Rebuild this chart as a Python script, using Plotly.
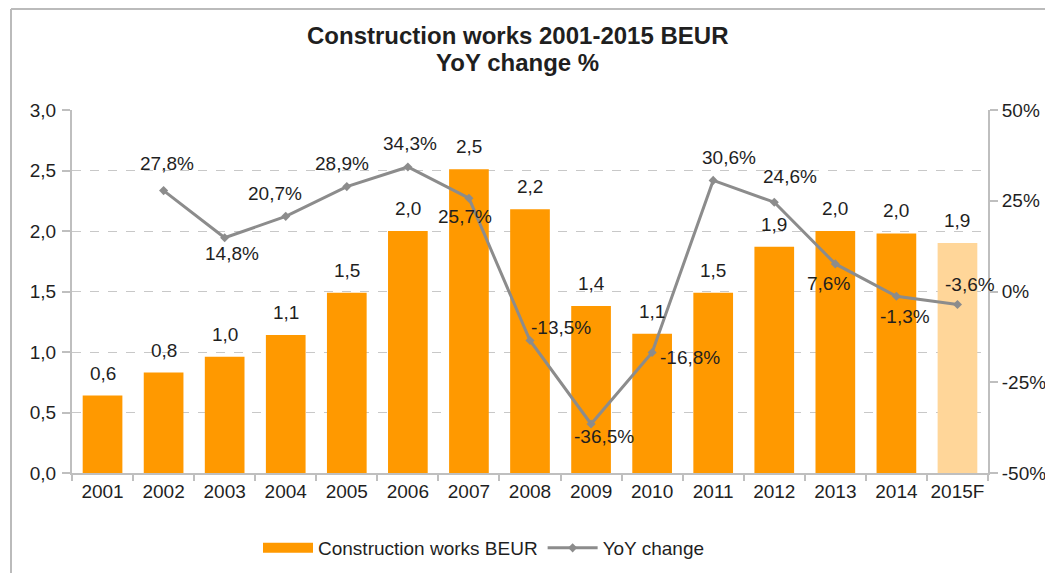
import plotly.graph_objects as go

years = ["2001", "2002", "2003", "2004", "2005", "2006", "2007", "2008",
         "2009", "2010", "2011", "2012", "2013", "2014", "2015F"]
works_beur = [0.64, 0.83, 0.96, 1.14, 1.49, 2.00, 2.51, 2.18,
              1.38, 1.15, 1.49, 1.87, 2.00, 1.98, 1.90]
yoy_years = years[1:]
yoy_pct = [27.8, 14.8, 20.7, 28.9, 34.3, 25.7, -13.5, -36.5,
           -16.8, 30.6, 24.6, 7.6, -1.3, -3.6]
y1_tickvals = [0, 0.5, 1, 1.5, 2, 2.5, 3]
y1_ticktext = ["0,0", "0,5", "1,0", "1,5", "2,0", "2,5", "3,0"]
y2_tickvals = [-50, -25, 0, 25, 50]
y2_ticktext = ["-50%", "-25%", "0%", "25%", "50%"]

# label offsets (px) for YoY data labels
yoy_dx = [3, 7, -11, -5, 2, -4, 31, 13, 38, 16, 16, -7, 9, 13]
yoy_dy = [-27, 16, -23, -23, -23, 18, -13, 12, 5, -23, -26, 20, 20, -20]

BAR = "#FF9900"
BAR_F = "#FFD699"
LINE = "#8C8C8C"
TXT = "#1F1F1F"
FONT = "Liberation Sans, Arial, sans-serif"
FS = 19

# page offset of the figure (browser body margin)
OFF = 8
PLOT_H = 363
PLOT_W = 916
PL, PT = 72, 110  # plot-area top-left in screenshot pixels

bar_colors = [BAR] * (len(years) - 1) + [BAR_F]

fig = go.Figure()
fig.add_trace(go.Bar(
    x=years, y=works_beur, name="Construction works BEUR",
    marker=dict(color=bar_colors, line=dict(width=0)),
    yaxis="y", hoverinfo="x+y", showlegend=False,
))
# legend entry for the bars (wide swatch, as in the reference)
fig.add_trace(go.Scatter(
    x=[None], y=[None], name="Construction works BEUR", mode="lines",
    line=dict(color=BAR, width=11), yaxis="y", showlegend=True,
))
fig.add_trace(go.Scatter(
    x=yoy_years, y=yoy_pct, name="YoY change", yaxis="y2",
    mode="lines+markers",
    line=dict(color=LINE, width=3),
    marker=dict(symbol="diamond", size=7, color=LINE),
))


def px_x(x):
    return (x - PL) / PLOT_W


def px_y(y):
    return 1 - (y - PT) / PLOT_H


annotations = []
for i, v in enumerate(works_beur):
    annotations.append(dict(
        x=i, y=v, xref="x", yref="y", text=f"{v:.1f}".replace(".", ","),
        showarrow=False, yanchor="bottom", yshift=10,
        font=dict(family=FONT, size=FS, color=TXT),
    ))
for j, (v, dx, dy) in enumerate(zip(yoy_pct, yoy_dx, yoy_dy)):
    i = years.index(yoy_years[j])
    annotations.append(dict(
        x=i, y=v, xref="x", yref="y2", text=f"{v:.1f}%".replace(".", ","),
        showarrow=False, xshift=dx, yshift=-dy,
        font=dict(family=FONT, size=FS, color=TXT),
    ))
# two-line chart title
annotations.append(dict(
    x=px_x(517), y=px_y(36), xref="paper", yref="paper",
    text="<b>Construction works 2001-2015 BEUR</b>", showarrow=False,
    xanchor="center", yanchor="middle",
    font=dict(family=FONT, size=24, color=TXT),
))
annotations.append(dict(
    x=px_x(517), y=px_y(63), xref="paper", yref="paper",
    text="<b>YoY change %</b>", showarrow=False,
    xanchor="center", yanchor="middle",
    font=dict(family=FONT, size=24, color=TXT),
))

W, H = 1053 - OFF, 573 - OFF
fig.update_layout(
    width=W, height=H,
    margin=dict(l=PL - OFF, r=W - (PL - OFF) - PLOT_W, t=PT - OFF,
                b=H - (PT - OFF) - PLOT_H, pad=0, autoexpand=False),
    paper_bgcolor="white", plot_bgcolor="white",
    font=dict(family=FONT, size=FS, color=TXT),
    bargap=0.35,
    showlegend=True,
    legend=dict(orientation="h", x=px_x(484), xanchor="center",
                y=px_y(548), yanchor="middle",
                font=dict(family=FONT, size=FS, color=TXT),
                itemwidth=50, tracegroupgap=0),
    xaxis=dict(type="category", range=[-0.5, len(years) - 0.5],
               showline=True, linecolor="#BFBFBF", linewidth=2,
               ticks="outside", tickson="boundaries", ticklen=6, tickcolor="#BFBFBF",
               tickwidth=1.5, showgrid=False, tickangle=0, automargin=False,
               tickfont=dict(family=FONT, size=FS, color=TXT)),
    yaxis=dict(range=[0, 3], showline=True,
               linecolor="#BFBFBF", linewidth=2, ticks="outside", ticklen=8,
               tickcolor="#BFBFBF", tickwidth=1.5, automargin=False,
               showgrid=True, gridcolor="#C8C8C8", griddash="dash", gridwidth=1,
               zeroline=False, ticklabelstandoff=2,
               tickvals=y1_tickvals, ticktext=y1_ticktext,
               tickfont=dict(family=FONT, size=FS, color=TXT)),
    yaxis2=dict(range=[-50, 50], tickvals=y2_tickvals, ticktext=y2_ticktext,
                overlaying="y", automargin=False,
                side="right", showline=True, linecolor="#BFBFBF", linewidth=2,
                ticks="outside", ticklen=8, tickcolor="#BFBFBF", tickwidth=1.5,
                showgrid=False, zeroline=False,
                tickfont=dict(family=FONT, size=FS, color=TXT)),
    annotations=annotations,
    shapes=[
        dict(type="line", xref="paper", yref="paper",
             x0=px_x(11), x1=px_x(1060), y0=px_y(9), y1=px_y(9),
             line=dict(color="#BBBBBB", width=2)),
        dict(type="line", xref="paper", yref="paper",
             x0=px_x(11), x1=px_x(11), y0=px_y(9), y1=px_y(580),
             line=dict(color="#BBBBBB", width=2)),
    ],
)

fig.write_html("out.html")
